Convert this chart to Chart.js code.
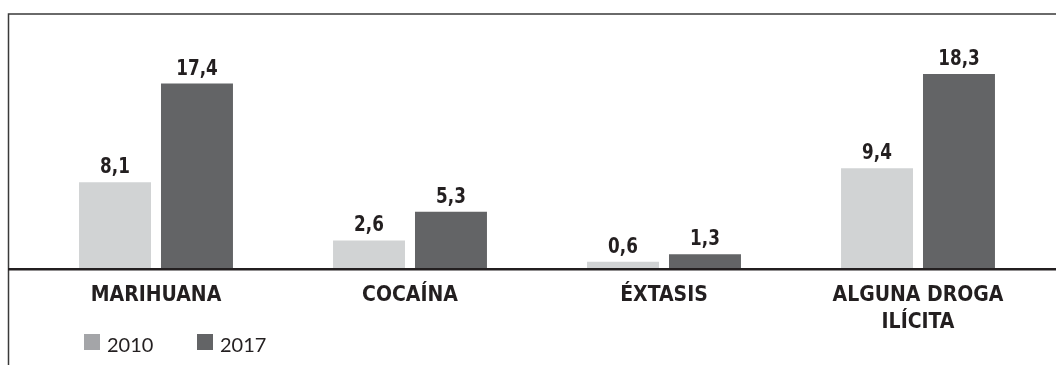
<!DOCTYPE html>
<html><head><meta charset="utf-8">
<script src="https://cdn.jsdelivr.net/npm/chart.js@4.4.0/dist/chart.umd.min.js"></script>
<style>html,body{margin:0;padding:0;background:#fff;}</style>
</head><body>
<canvas id="c" width="1056" height="365"></canvas>
<script>
const categories = [["MARIHUANA"], ["COCAÍNA"], ["ÉXTASIS"], ["ALGUNA DROGA", "ILÍCITA"]];
const seriesNames = ["2010", "2017"];
const values2010 = [8.1, 2.6, 0.6, 9.4];
const values2017 = [17.4, 5.3, 1.3, 18.3];
const barColors = ["#d1d3d4", "#636466"];
const legendColors = ["#a4a5a8", "#636466"];
const yMax = 20;

const fmt = v => v.toFixed(1).replace('.', ',');
const TEXT = '#231f20';

const deco = {
  id: 'deco',
  afterDraw(chart) {
    const ctx = chart.ctx;
    const y0 = chart.scales.y.getPixelForValue(0);
    const W = chart.width, H = chart.height;
    ctx.save();
    // frame
    ctx.strokeStyle = '#3a3a3a';
    ctx.lineWidth = 1.5;
    ctx.beginPath();
    ctx.moveTo(8.5, H); ctx.lineTo(8.5, 14); ctx.lineTo(W, 14);
    ctx.stroke();
    // baseline
    ctx.strokeStyle = TEXT;
    ctx.lineWidth = 2.5;
    ctx.beginPath();
    ctx.moveTo(8, y0 + 1.2); ctx.lineTo(W, y0 + 1.2);
    ctx.stroke();
    // value labels
    ctx.fillStyle = TEXT;
    ctx.font = 'bold 22px "DejaVu Sans Condensed"';
    ctx.textAlign = 'center';
    ctx.textBaseline = 'alphabetic';
    chart.data.datasets.forEach((ds, di) => {
      chart.getDatasetMeta(di).data.forEach((bar, i) => {
        ctx.save();
        ctx.translate(bar.x, bar.y - 9);
        ctx.scale(0.85, 1);
        ctx.fillText(fmt(ds.data[i]), 0, 0);
        ctx.restore();
      });
    });
    // legend
    ctx.font = '20px Lato';
    ctx.textAlign = 'left';
    let lx = 84;
    chart.data.datasets.forEach((ds, di) => {
      ctx.fillStyle = legendColors[di];
      ctx.fillRect(lx, 334, 16, 16);
      ctx.fillStyle = TEXT;
      ctx.fillText(ds.label, lx + 23, 352);
      lx += 113;
    });
    ctx.restore();
  }
};

new Chart(document.getElementById('c'), {
  type: 'bar',
  data: {
    labels: categories,
    datasets: [
      { label: seriesNames[0], data: values2010, backgroundColor: barColors[0] },
      { label: seriesNames[1], data: values2017, backgroundColor: barColors[1] }
    ]
  },
  options: {
    responsive: false,
    animation: false,
    events: [],
    layout: { padding: { left: 29, right: 11, top: 56, bottom: 0 } },
    datasets: { bar: { categoryPercentage: 0.6454, barPercentage: 0.878 } },
    plugins: { legend: { display: false }, tooltip: { enabled: false } },
    scales: {
      x: {
        grid: { display: false, drawTicks: false },
        border: { display: false },
        ticks: {
          color: TEXT,
          padding: 14,
          maxRotation: 0,
          autoSkip: false,
          font: { family: 'DejaVu Sans Condensed', weight: 'bold', size: 21, lineHeight: 1.3 }
        },
        afterFit(s) { s.height = 97; }
      },
      y: { display: false, min: 0, max: yMax }
    }
  },
  plugins: [deco]
});
</script>
</body></html>
